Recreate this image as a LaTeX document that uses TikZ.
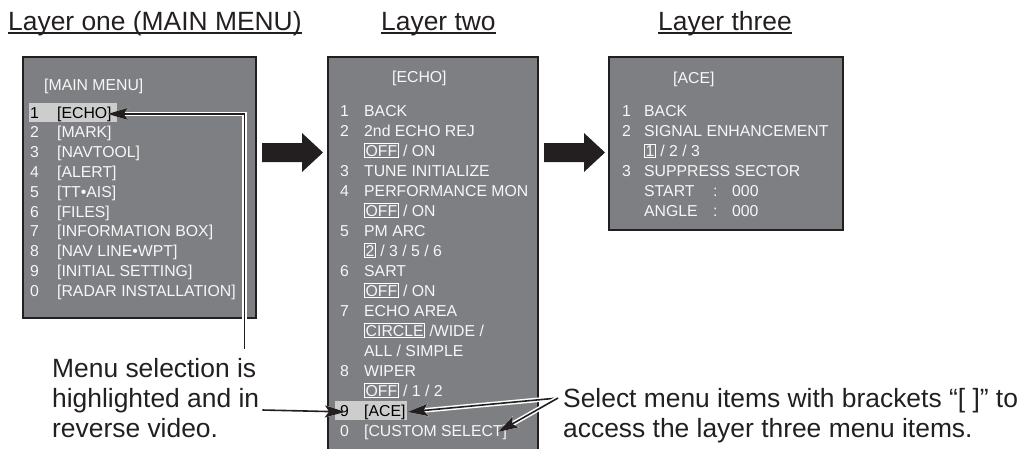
\documentclass[tikz,border=0pt]{standalone}
\usepackage{fontspec}
\setmainfont{Liberation Sans}
\usetikzlibrary{arrows.meta}
\definecolor{panelgray}{RGB}{126,127,131}
\definecolor{hlgray}{RGB}{205,205,205}
\definecolor{ink}{RGB}{35,31,32}
\tikzset{
  panel/.style={fill=panelgray, draw=ink, line width=1.6pt},
  item/.style={anchor=base west, inner sep=0pt, text=white!97!black, font=\fontsize{15.8}{19}\selectfont},
  note/.style={anchor=base west, inner sep=0pt, text=ink, font=\fontsize{26.4}{30}\selectfont},
  lead/.style={draw=ink, line width=1.6pt, -{Stealth[length=20pt,width=12pt,inset=4pt]}, preaction={draw=white, line width=4.6pt}}
}
\newcommand{\dflt}[1]{{\setlength{\fboxsep}{0.8pt}\setlength{\fboxrule}{0.7pt}\fcolorbox{white}{panelgray}{#1}}}
\begin{document}
\begin{tikzpicture}[x=1pt,y=-1pt]
  \useasboundingbox (0,0) rectangle (1026,448);
  \foreach \x/\lbl [count=\i] in {8/{Layer one (MAIN MENU)},381/{Layer two},658/{Layer three}} {
    \node[note] (T\i) at (\x,30) {\lbl};
    \draw[ink, line width=1.1pt] ([yshift=-3pt]T\i.base west) -- ([yshift=-3pt]T\i.base east);
  }
  \draw[panel] (23,57) rectangle (256,318);
  \draw[panel] (328,57) rectangle (538,470);
  \draw[panel] (609,57) rectangle (843,230);
  \foreach \x in {262,544}
    \fill[ink] (\x,143) -- ++(40,0) -- ++(0,-10) -- ++(21,19.5) -- ++(-21,19.5) -- ++(0,-10) -- ++(-40,0) -- cycle;
  % layer one
  \node[item] (mainT) at (44,90) {[MAIN MENU]};
  \fill[hlgray] (29,103) rectangle (117,122);
  \node[item, text=black] (L1) at (30,118) {\makebox[27pt][l]{1}[ECHO]};
  \foreach \n/\lbl [count=\i] in {2/{[MARK]},3/{[NAVTOOL]},4/{[ALERT]},5/{[TT\textbullet AIS]},6/{[FILES]},7/{[INFORMATION BOX]},8/{[NAV LINE\textbullet WPT]},9/{[INITIAL SETTING]},0/{[RADAR INSTALLATION]}}
    \node[item] (L\n) at (30,{118+19.8*\i}) {\makebox[27pt][l]{\n}\lbl};
  % layer two
  \node[item] (echoT) at (392,82) {[ECHO]};
  \foreach \n/\lbl [count=\i from 0] in {1/{BACK},2/{2nd ECHO REJ},/{\dflt{OFF} / ON},3/{TUNE INITIALIZE},4/{PERFORMANCE MON},/{\dflt{OFF} / ON},5/{PM ARC},/{\dflt{2} / 3 / 5 / 6},6/{SART},/{\dflt{OFF} / ON},7/{ECHO AREA},/{\dflt{CIRCLE} /WIDE /},/{ALL / SIMPLE},8/{WIPER},/{\dflt{OFF} / 1 / 2}}
    \node[item] (M\i) at (340,{116+20*\i}) {\makebox[24pt][l]{\n}\lbl};
  \fill[hlgray] (335,401) rectangle (407,420);
  \node[item, text=black] (ace) at (340,416) {\makebox[24pt][l]{9}[ACE]};
  \node[item] (custom) at (340,436) {\makebox[24pt][l]{0}[CUSTOM SELECT]};
  % layer three
  \node[item] (aceT) at (673,83) {[ACE]};
  \foreach \n/\lbl [count=\i from 0] in {1/{BACK},2/{SIGNAL ENHANCEMENT},/{\dflt{1} / 2 / 3},3/{SUPPRESS SECTOR},/{\makebox[69pt][l]{START}:\hspace{14.6pt}000},/{\makebox[69pt][l]{ANGLE}:\hspace{14.6pt}000}}
    \node[item] (R\i) at (622,{116+20*\i}) {\makebox[22pt][l]{\n}\lbl};
  % notes
  \node[note] (sel1) at (52,377) {Menu selection is};
  \node[note] (sel2) at (52,407) {highlighted and in};
  \node[note] (sel3) at (52,437) {reverse video.};
  \node[note] (brk1) at (563,407) {Select menu items with brackets “[ ]” to};
  \node[note] (brk2) at (563,437) {access the layer three menu items.};
  \coordinate (selTop) at ([xshift=-12pt,yshift=28pt]sel1.base east);
  \coordinate (pick) at ([xshift=-5pt,yshift=9pt]brk1.base west);
  \draw[lead] (selTop) |- ([xshift=-4pt]L1.east);
  \draw[lead] ([xshift=3pt,yshift=-3pt]sel2.base east) -- ([xshift=5pt]ace.west);
  \draw[lead] (pick) -- ([xshift=2pt]ace.east);
  \draw[lead] (pick) -- ([xshift=-9pt]custom.east);
\end{tikzpicture}
\end{document}
